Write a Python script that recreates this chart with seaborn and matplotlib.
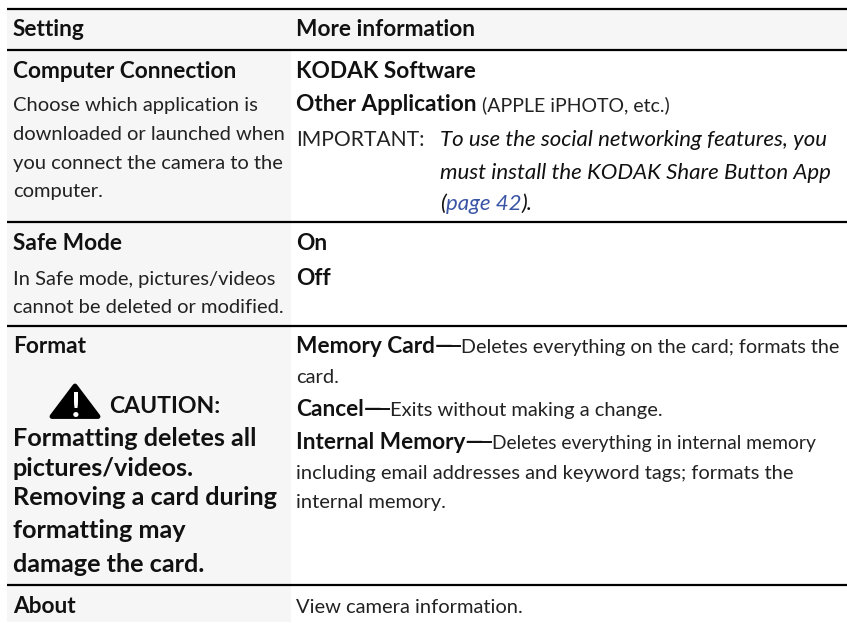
import matplotlib
matplotlib.use('Agg')
import matplotlib.pyplot as plt
import seaborn as sns
from matplotlib.patches import Polygon, Rectangle

sns.set_theme(style='white')
plt.rcParams['font.family'] = ['Lato', 'DejaVu Sans']

# table content: (baseline y, [(text, style), ...])
left_lines = [
    (36, 'Setting', 'b'),
    (78, 'Computer Connection', 'b'),
    (111, 'Choose which application is', 'r'),
    (140, 'downloaded or launched when', 'r'),
    (169, 'you connect the camera to the', 'r'),
    (197, 'computer.', 'r'),
    (250, 'Safe Mode', 'b'),
    (285, 'In Safe mode, pictures/videos', 'r'),
    (313, 'cannot be deleted or modified.', 'r'),
    (353, 'Format', 'b'),
    (446, 'Formatting deletes all', 'B'),
    (476, 'pictures/videos.', 'B'),
    (505, 'Removing a card during', 'B'),
    (538, 'formatting may', 'B'),
    (572, 'damage the card.', 'B'),
    (613, 'About', 'b'),
]
right_lines = [
    (36, [('More information', 'b')]),
    (78, [('KODAK Software', 'b')]),
    (111, [('Other Application', 'b'), (' (APPLE iPHOTO, etc.)', 'p')]),
    (250, [('On', 'b')]),
    (285, [('Off', 'b')]),
    (353, [('Memory Card—', 'b'), ('Deletes everything on the card; formats the', 'd')]),
    (383, [('card.', 'r')]),
    (416, [('Cancel—', 'b'), ('Exits without making a change.', 'r')]),
    (449, [('Internal Memory—', 'b'), ('Deletes everything in internal memory', 'e')]),
    (479, [('including email addresses and keyword tags; formats the', 'r')]),
    (508, [('internal memory.', 'r')]),
    (613, [('View camera information.', 'r')]),
]
note_label = 'IMPORTANT:'
note_lines = [
    (146, [('To use the social networking features, you', 'i')]),
    (179, [('must install the KODAK Share Button App', 'i')]),
    (210, [('(', 'i'), ('page 42', 'l'), (').', 'i')]),
]
caution_text = 'CAUTION:'
rule_y = [9, 50, 222, 325.5, 585]

styles = {
    'b': dict(fontsize=16.3, fontweight='bold', color='#111111'),
    'B': dict(fontsize=18.2, fontweight='bold', color='#111111'),
    'r': dict(fontsize=14.5, color='#222222'),
    'd': dict(fontsize=14.2, color='#222222'),
    'e': dict(fontsize=13.9, color='#222222'),
    'p': dict(fontsize=14.0, color='#222222'),
    'i': dict(fontsize=16.05, style='italic', color='#111111'),
    'l': dict(fontsize=16.05, style='italic', color='#3a55a5'),
}

fig = plt.figure(figsize=(8.47, 6.23), dpi=100)
ax = fig.add_axes([0, 0, 1, 1])
ax.set_xlim(0, 847)
ax.set_ylim(623, 0)
ax.axis('off')
sns.despine(ax=ax, left=True, bottom=True)

# grey header and left column
ax.add_patch(Rectangle((7, 9), 840, 41, color='#f6f6f6', lw=0))
ax.add_patch(Rectangle((7, 50), 284, 572, color='#f6f6f6', lw=0))
ax.hlines(rule_y, 7, 847, color='black', lw=1.6)


def put_runs(x, y, runs):
    rend = fig.canvas.get_renderer()
    for s, st in runs:
        # leading blanks are not measured, so nudge by hand
        if s.startswith(' '):
            x += 5
            s = s.strip()
        t = ax.text(x, y, s, va='baseline', ha='left', **styles[st])
        x = t.get_window_extent(rend).x1
        # the dash in the original runs longer than Lato's, so extend it
        if s.endswith('—'):
            ax.hlines(y - 7, x - 2, x + 8, color='#111111', lw=1.4)
            x += 8


for y, s, st in left_lines:
    ax.text(13, y, s, va='baseline', ha='left', **styles[st])
for y, runs in right_lines:
    put_runs(296, y, runs)
ax.text(296, 146, note_label, va='baseline', ha='left', fontsize=15.2, color='#222222')
for y, runs in note_lines:
    put_runs(440, y, runs)

# warning sign
ax.add_patch(Polygon([(52, 416.5), (75, 386), (98, 416.5)], closed=True, fc='black', ec='black', lw=3.5, joinstyle='round'))
ax.text(75.5, 417, '!', color='white', fontsize=25, fontweight='bold', ha='center', va='baseline')
ax.text(109, 413, caution_text, va='baseline', ha='left', fontsize=16.6, fontweight='bold', color='#111111')

fig.savefig('out.png', dpi=100)
